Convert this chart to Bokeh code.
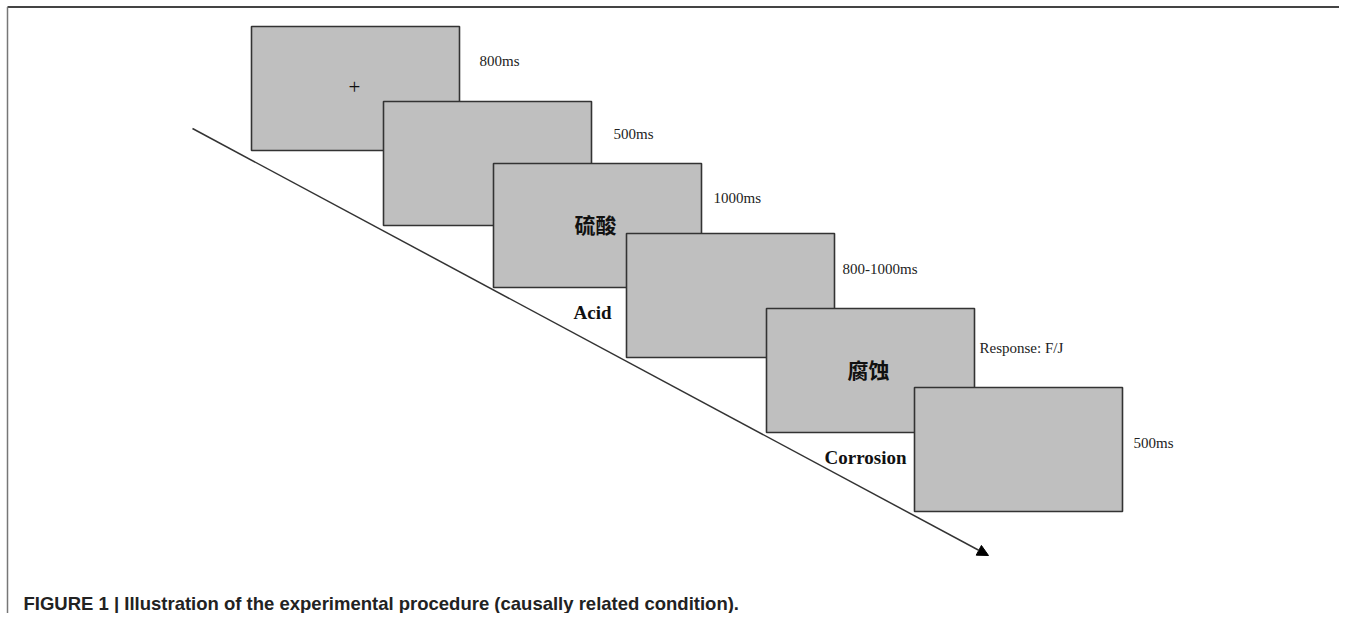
from bokeh.plotting import figure
from bokeh.models import Range1d, ColumnDataSource, Arrow, NormalHead
from bokeh.core.properties import value
from bokeh.embed import file_html
from bokeh.resources import INLINE

# ---- diagram content ----
stages = ["Fixation", "Blank", "Prime", "Blank", "Target", "Blank"]
screen_text = ["+", "", "硫酸", "", "腐蚀", ""]
durations = ["800ms", "500ms", "1000ms", "800-1000ms", "Response: F/J", "500ms"]
words = ["", "", "Acid", "", "Corrosion", ""]
# screen layout (left, top) in page pixels
screen_left = [251, 383, 493, 626, 766, 914]
screen_top = [26, 101, 163, 233, 308, 387]
dur_x = [479, 613, 713, 842, 979, 1133]
dur_y = [60, 133, 197, 268, 347, 442]
caption = "FIGURE 1 | Illustration of the experimental procedure (causally related condition)."

W, H = 1339, 613
SW, SH = 208, 124

p = figure(width=W, height=H, output_backend="svg", toolbar_location=None,
           x_range=Range1d(0, W), y_range=Range1d(H, 0),
           min_border=0, outline_line_color=None)
p.axis.visible = False
p.grid.visible = False
p.background_fill_color = "white"
p.border_fill_color = "white"

# frame (top and left edges)
p.line([7, W], [6.5, 6.5], line_color="#444444", line_width=2)
p.line([7, 7], [6.5, H], line_color="#777777", line_width=1.5)

# timeline arrow
p.add_layout(Arrow(x_start=192, y_start=128, x_end=988, y_end=555,
                   line_color="#333333", line_width=1.5,
                   end=NormalHead(size=11, fill_color="black", line_color="black")))

left = screen_left
right = [l + SW for l in screen_left]
top = screen_top
bottom = [t + SH for t in screen_top]
cx = [(l + r) / 2 for l, r in zip(left, right)]
cy = [(t + b) / 2 for t, b in zip(top, bottom)]
src = ColumnDataSource(dict(left=left, right=right, top=top, bottom=bottom,
                            dur=durations, dx=dur_x, dy=dur_y))

p.quad(left="left", right="right", top="top", bottom="bottom", source=src,
       fill_color="#bfbfbf", line_color="#333333", line_width=1.6)

# "+" on fixation
p.text(x=[cx[0] - 1], y=[cy[0] - 2], text=[screen_text[0]],
       text_font=value("Liberation Serif"), text_font_size="21px",
       text_align="center", text_baseline="middle", text_color="#111111")

# Chinese words
cn_idx = [i for i, t in enumerate(screen_text) if t and t != "+"]
p.text(x=[cx[i] - 2 for i in cn_idx], y=[cy[i] - 2 for i in cn_idx],
       text=[screen_text[i] for i in cn_idx],
       text_font=value("Noto Sans CJK SC"), text_font_size="21px", text_font_style="bold",
       text_align="center", text_baseline="middle", text_color="#111111")

# durations
p.text(x="dx", y="dy", text="dur", source=src,
       text_font=value("Liberation Serif"), text_font_size="15px",
       text_align="left", text_baseline="middle", text_color="#222222")

# english words
w_idx = [i for i, t in enumerate(words) if t]
p.text(x=[cx[i] - 5 for i in w_idx], y=[bottom[i] + 25 for i in w_idx],
       text=[words[i] for i in w_idx],
       text_font=value("Liberation Serif"), text_font_size="19px", text_font_style="bold",
       text_align="center", text_baseline="middle", text_color="#111111")

# caption
p.text(x=[23], y=[603], text=[caption],
       text_font=value("Liberation Sans"), text_font_size="18.5px", text_font_style="bold",
       text_align="left", text_baseline="middle", text_color="#222222")

open("out.html", "w").write(file_html(p, INLINE))
